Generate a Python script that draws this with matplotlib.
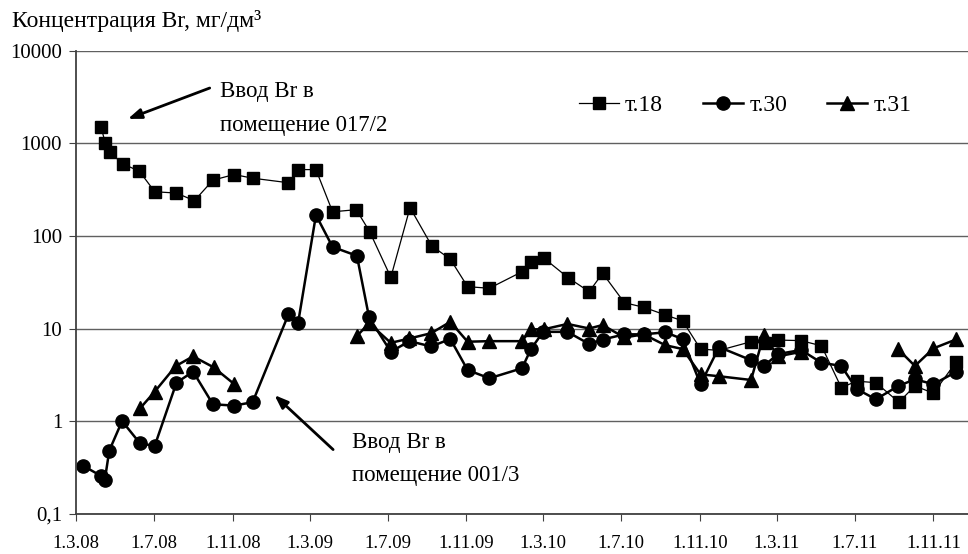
import numpy as np
import matplotlib
matplotlib.use('Agg')
import matplotlib.pyplot as plt
import pandas as pd

plt.rcParams['font.family'] = ['Liberation Serif', 'DejaVu Serif']

# days since 1.3.2008
t18_day = [39, 46, 53, 73, 99, 123, 157, 185, 214, 247, 276, 332, 347, 375, 401, 438,
           459, 492, 522, 556, 585, 612, 646, 697, 711, 731, 769, 802, 823, 857, 888, 921,
           948, 976, 1005, 1055, 1077, 1097, 1133, 1165, 1196, 1220, 1250, 1286, 1311, 1340, 1376]
t18_val = [1500, 1000, 800, 600, 500, 300, 290, 240, 400, 460, 420, 375, 520, 520, 182, 192,
           111, 35.7, 202, 78, 56, 28.3, 27.2, 41, 52.6, 57.7, 35.4, 25, 39.5, 19, 16.9, 14,
           12.1, 6.0, 5.8, 7.2, 6.9, 7.5, 7.4, 6.5, 2.3, 2.7, 2.6, 1.6, 2.4, 2.0, 4.4]

t30_day = [11, 39, 45, 52, 72, 100, 123, 157, 183, 214, 247, 276, 332, 347, 375, 401,
           439, 458, 492, 521, 555, 585, 612, 646, 697, 711, 730, 768, 802, 823, 857, 887,
           921, 948, 976, 1005, 1055, 1075, 1097, 1133, 1165, 1196, 1220, 1250, 1285, 1311, 1340, 1376]
t30_val = [0.33, 0.256, 0.231, 0.48, 1.0, 0.575, 0.54, 2.6, 3.42, 1.52, 1.47, 1.6, 14.2, 11.4, 168, 76,
           61, 13.2, 5.6, 7.3, 6.4, 7.7, 3.56, 2.9, 3.72, 6.0, 9.2, 9.2, 6.8, 7.6, 8.65, 8.65,
           9.1, 7.7, 2.5, 6.3, 4.55, 3.94, 5.3, 5.86, 4.27, 3.94, 2.22, 1.72, 2.39, 2.83, 2.5, 3.42]

# nan = no measurements (line break)
t31_day = [100, 123, 156, 183, 215, 247, 300,
           439, 458, 492, 521, 555, 585, 612, 646, 697, 711, 731, 768, 802, 823, 857, 887,
           921, 948, 976, 1005, 1055, 1075, 1097, 1133, 1200,
           1285, 1311, 1340, 1376]
t31_val = [1.37, 2.08, 3.94, 5.0, 3.81, 2.52, np.nan,
           8.3, 11.4, 7.0, 7.8, 8.9, 11.8, 7.2, 7.3, 7.3, 9.8, 9.8, 11.2, 10.0, 10.9, 8.0, 8.65,
           6.6, 6.0, 3.2, 3.05, 2.78, 8.6, 5.0, 5.6, np.nan,
           5.96, 3.94, 6.1, 7.65]

x_labels = ['1.3.08', '1.7.08', '1.11.08', '1.3.09', '1.7.09', '1.11.09',
            '1.3.10', '1.7.10', '1.11.10', '1.3.11', '1.7.11', '1.11.11']
y_ticks = [0.1, 1, 10, 100, 1000, 10000]
y_labels = ['0,1', '1', '10', '100', '1000', '10000']

start = pd.Timestamp('2008-03-01')
x_ticks = [(pd.to_datetime(s, format='%d.%m.%y') - start).days for s in x_labels]

fig = plt.figure(figsize=(9.68, 5.54), dpi=100)
ax = fig.add_axes([76 / 968, 40.3 / 554, 1 - 76 / 968, 463 / 554])

ax.plot(t18_day, t18_val, '-', color='black', lw=0.9, marker='s', ms=8, label='т.18')
ax.plot(t30_day, t30_val, '-', color='black', lw=1.8, marker='o', ms=9.5, label='т.30')
ax.plot(t31_day, t31_val, '-', color='black', lw=1.8, marker='^', ms=10, label='т.31')

ax.set_yscale('log')
ax.set_ylim(0.1, 10000)
ax.set_xlim(0, 1394)
ax.set_yticks(y_ticks)
ax.set_yticklabels(y_labels)
ax.minorticks_off()
ax.set_xticks(x_ticks)
ax.set_xticklabels(x_labels)
ax.tick_params(axis='both', direction='out', length=5, color='#404040')
ax.tick_params(axis='x', labelsize=13.5, pad=10)
ax.tick_params(axis='y', labelsize=15, pad=5)
ax.yaxis.grid(True, color='#606060', lw=1)
ax.set_axisbelow(True)
for s in ['top', 'right']:
    ax.spines[s].set_visible(False)
for s in ['left', 'bottom']:
    ax.spines[s].set_color('#404040')
    ax.spines[s].set_linewidth(1.3)

fig.text(12 / 968, 1 - 21 / 554, 'Концентрация Br, мг/дм³', fontsize=17, va='center', ha='left')

ax.legend(loc='center left', bbox_to_anchor=(579 / 968, 1 - 105 / 554), bbox_transform=fig.transFigure,
          ncol=3, frameon=False, fontsize=17, handlelength=1.7, handletextpad=0.25,
          columnspacing=1.7, borderaxespad=0, borderpad=0)

arrow = dict(arrowstyle='-|>,head_length=0.8,head_width=0.3', color='black', lw=2)
ax.annotate('', xy=(77, 1790), xytext=(213, 4050), arrowprops=arrow)
ax.annotate('', xy=(307, 2.0), xytext=(405, 0.47), arrowprops=arrow)
ax.text(225, 4700, 'Ввод Br в\nпомещение 017/2', fontsize=16.5, va='top', ha='left', linespacing=1.8)
ax.text(432, 0.76, 'Ввод Br в\nпомещение 001/3', fontsize=16.5, va='top', ha='left', linespacing=1.75)

fig.savefig('out.png', dpi=100)
